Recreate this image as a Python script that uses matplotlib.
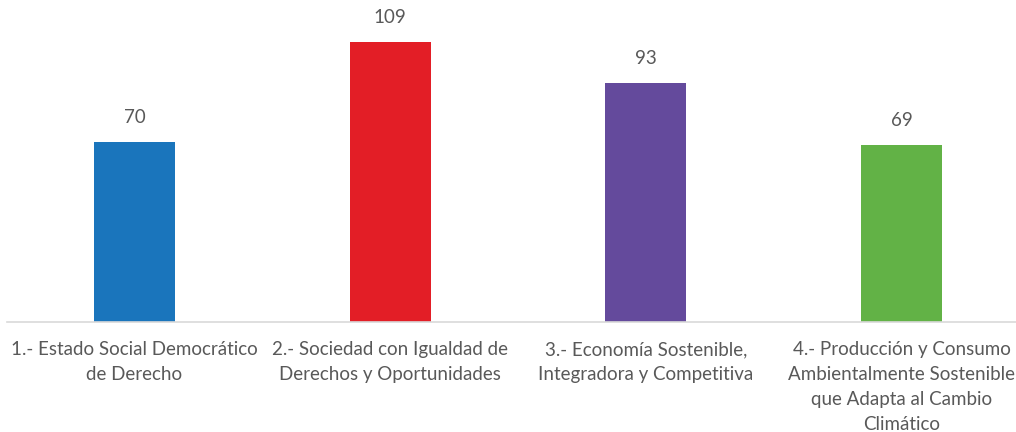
import matplotlib.pyplot as plt

# data
categories = [
    '1.- Estado Social Democrático\nde Derecho',
    '2.- Sociedad con Igualdad de\nDerechos y Oportunidades',
    '3.- Economía Sostenible,\nIntegradora y Competitiva',
    '4.- Producción y Consumo\nAmbientalmente Sostenible\nque Adapta al Cambio\nClimático',
]
values = [70, 109, 93, 69]
colors = ['#1a75bc', '#e31e26', '#644a9c', '#62b246']

plt.rcParams['font.family'] = ['Lato', 'DejaVu Sans']

W, H = 1016, 432
fig = plt.figure(figsize=(W / 100, H / 100), dpi=100)
ax = fig.add_axes([7 / W, 110 / H, 1009 / W, 312 / H])

x = range(len(values))
bars = ax.bar(x, values, width=0.317, color=colors)

ax.set_xlim(-0.4986, -0.4986 + 1009 / 255.7)
ax.set_ylim(0, 312 / (280 / 109))

for b, v in zip(bars, values):
    ax.text(b.get_x() + b.get_width() / 2, v + 6.3, str(v),
            ha='center', va='bottom', fontsize=13.5, color='#595959')

ax.set_xticks(list(x))
ax.set_xticklabels(categories, fontsize=13.5, color='#595959', linespacing=1.55)
ax.tick_params(axis='x', length=0, pad=14)
ax.set_yticks([])

for s in ['top', 'right', 'left']:
    ax.spines[s].set_visible(False)
ax.spines['bottom'].set_color('#d9d9d9')
ax.spines['bottom'].set_linewidth(1.2)

fig.savefig('out.png', dpi=100)
